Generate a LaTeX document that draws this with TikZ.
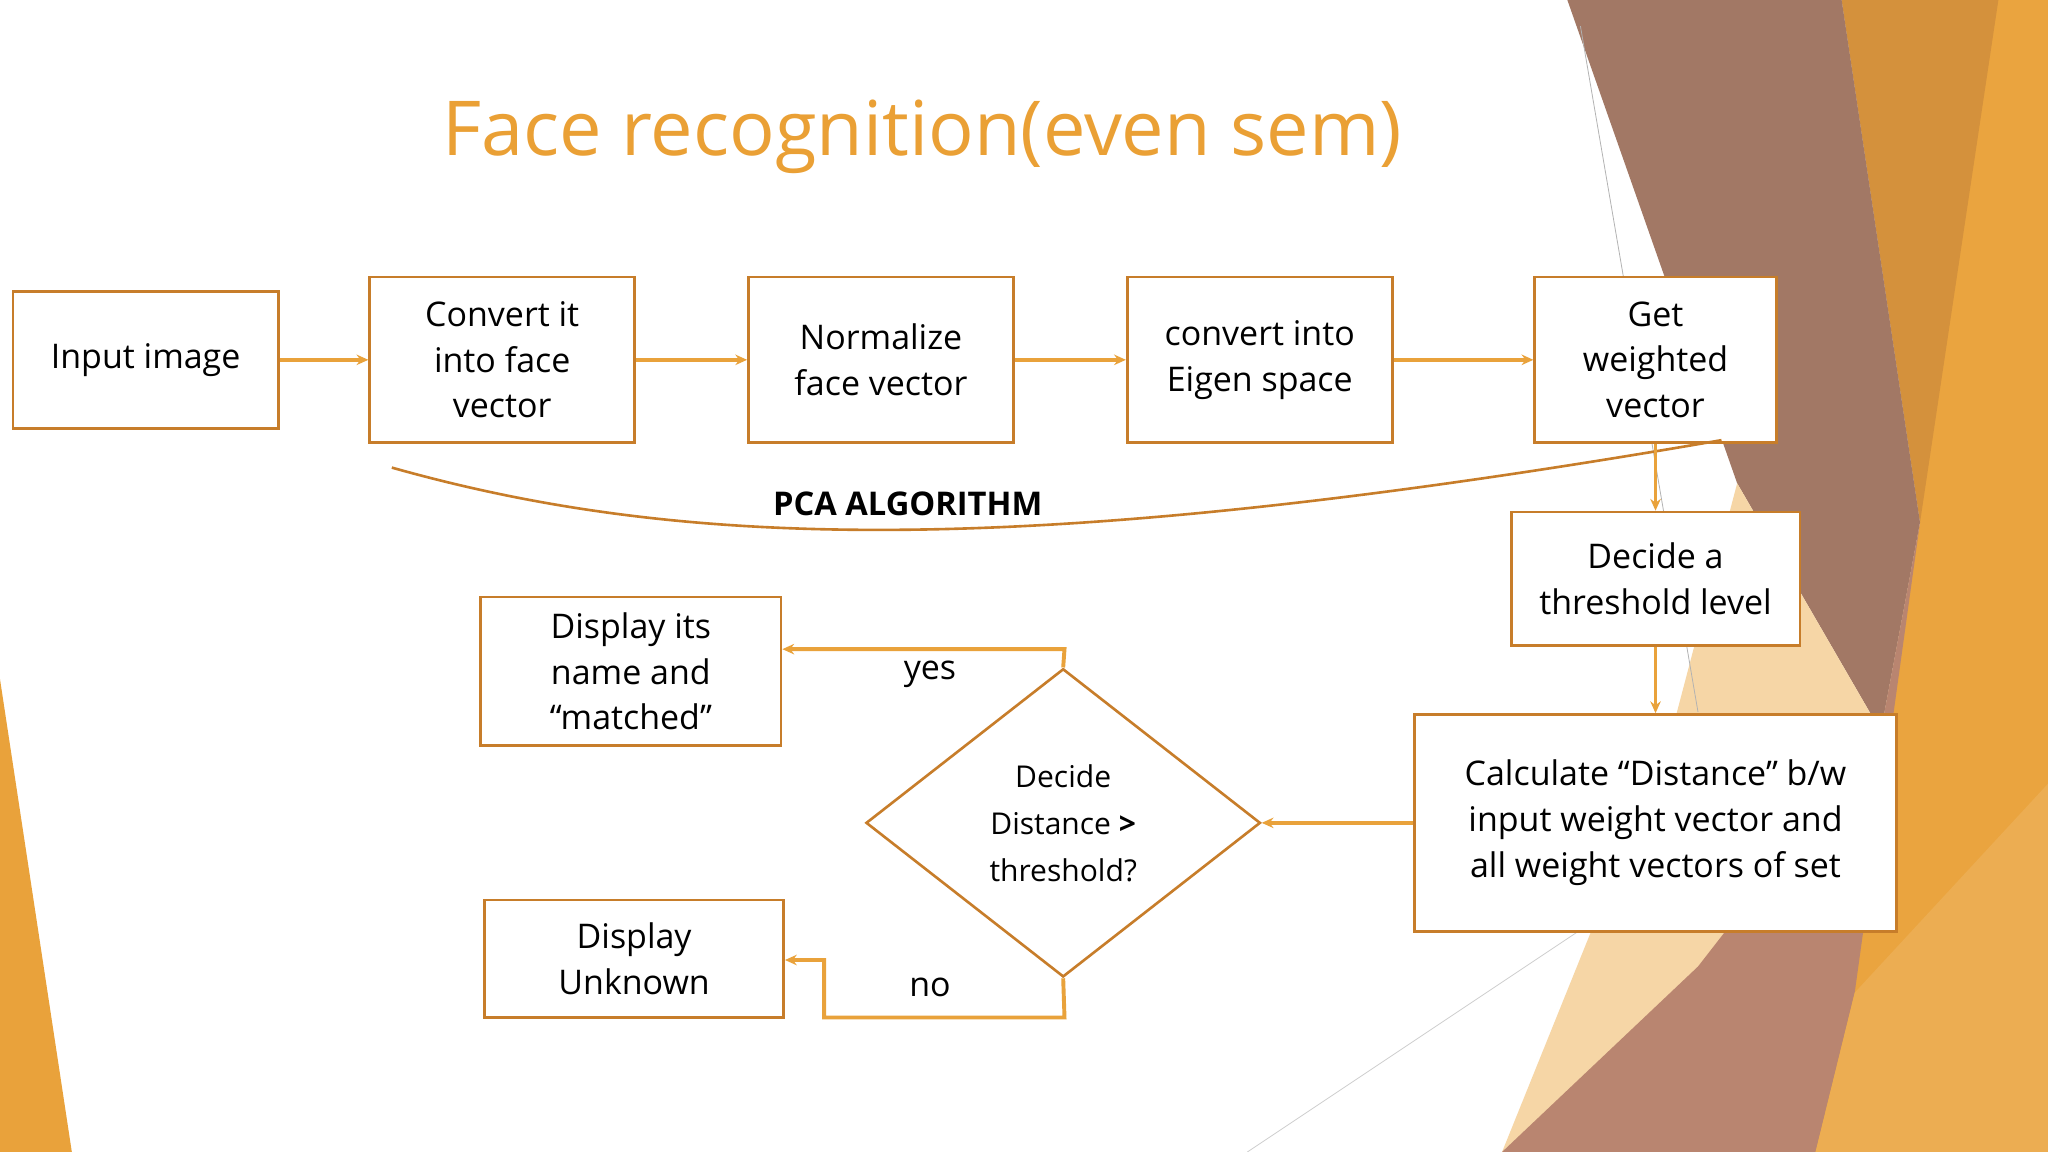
\documentclass[tikz,border=0pt]{standalone}
\usepackage{fontspec}
\setmainfont{Open Sans}
\usetikzlibrary{arrows.meta,shapes.geometric}
\definecolor{ora}{HTML}{E9A23B}
\definecolor{edge}{HTML}{C77D2A}
\definecolor{ttl}{HTML}{EAA035}
\definecolor{brn}{HTML}{A27865}
\definecolor{brn2}{HTML}{B98570}
\definecolor{oraD}{HTML}{D4913C}
\definecolor{oraR}{HTML}{EAA43F}
\definecolor{peach}{HTML}{F6D6A6}
\tikzset{
 box/.style={draw=edge,line width=2pt,fill=white,align=center,font=\fontsize{26}{35}\selectfont,inner sep=0pt},
 conn/.style={draw=ora,line width=3pt,-{Stealth[length=9pt,width=8pt]}},
 lbl/.style={font=\fontsize{26}{32}\selectfont}
}
\begin{document}
\begin{tikzpicture}[x=1pt,y=-1pt]
\useasboundingbox (0,0) rectangle (1568,882);
\fill[white] (0,0) rectangle (1568,882);
% background decoration
\fill[oraR] (1410,0)--(1568,0)--(1568,882)--(1380,882)--(1470,400)--cycle;
\fill[oraD] (1410,0)--(1530,0)--(1470,400)--cycle;
\fill[brn] (1200,0)--(1410,0)--(1470,400)--(1440,560)--(1330,370)--cycle;
\fill[peach] (1330,370)--(1440,560)--(1200,870)--(1150,882)--(1280,560)--cycle;
\fill[brn2] (1440,560)--(1470,400)--(1420,760)--(1390,882)--(1150,882)--(1300,740)--cycle;
\fill[oraR!90!white] (1420,760)--(1568,600)--(1568,882)--(1390,882)--cycle;
\fill[ora] (0,520)--(55,882)--(0,882)--cycle;
\draw[gray!60,line width=0.6pt] (1210,20)--(1300,545);
\draw[gray!40,line width=0.6pt] (955,882)--(1210,712);
% title
\node[text=ttl,font=\fontsize{58}{64}\selectfont] (title) at (706,105) {Face recognition(even sem)};
% boxes
\node[box,minimum width=203pt,minimum height=105pt] (in) at (111.5,275.5) {Input image};
\node[box,minimum width=203pt,minimum height=127pt] (cv) at (384.5,275.5) {Convert it\\into face\\vector};
\node[box,minimum width=203pt,minimum height=127pt] (nv) at (674.5,275.5) {Normalize\\face vector};
\node[box,minimum width=203pt,minimum height=127pt] (es) at (964.5,275.5) {convert into\\Eigen space};
\node[box,minimum width=185pt,minimum height=127pt] (gw) at (1267.5,275.5) {Get\\weighted\\vector};
\node[box,minimum width=221pt,minimum height=102pt] (th) at (1267.5,443) {Decide a\\threshold level};
\node[box,minimum width=369pt,minimum height=166pt] (cd) at (1267.5,630) {Calculate “Distance” b/w\\input weight vector and\\all weight vectors of set};
\node[box,minimum width=230pt,minimum height=114pt] (dm) at (483,514) {Display its\\name and\\“matched”};
\node[box,minimum width=229pt,minimum height=90pt] (du) at (485.5,734) {Display\\Unknown};
\node[diamond,draw=edge,line width=2pt,fill=white,minimum width=302pt,minimum height=236pt,inner sep=0pt,aspect=1.28,align=center,font=\fontsize{23}{36}\selectfont] (dd) at (814,630) {Decide\\Distance \textbf{>}\\threshold?};
% curve
\coordinate (c1) at (300,358);
\coordinate (c2) at (1318,337);
\draw[edge,line width=2pt] (c1) .. controls (520,420) and (780,430) .. (c2);
\node[font=\bfseries\fontsize{25}{30}\selectfont] (pca) at (695,386) {PCA ALGORITHM};
% arrows
\draw[conn] (in) -- (cv);
\draw[conn] (cv) -- (nv);
\draw[conn] (nv) -- (es);
\draw[conn] (es) -- (gw);
\draw[conn] (gw) -- (th);
\draw[conn] (th) -- (cd);
\draw[conn] (cd) -- (dd);
\draw[conn] (dd.north) -- (815,497) -- (dm.east |- 0,497);
\draw[conn] (dd.south) -- (815,779) -- (631,779) -- (631,735) -- (du.east |- 0,735);
\node[lbl] (yes) at (712,516) {yes};
\node[lbl] (no) at (712,756) {no};
\end{tikzpicture}
\end{document}
